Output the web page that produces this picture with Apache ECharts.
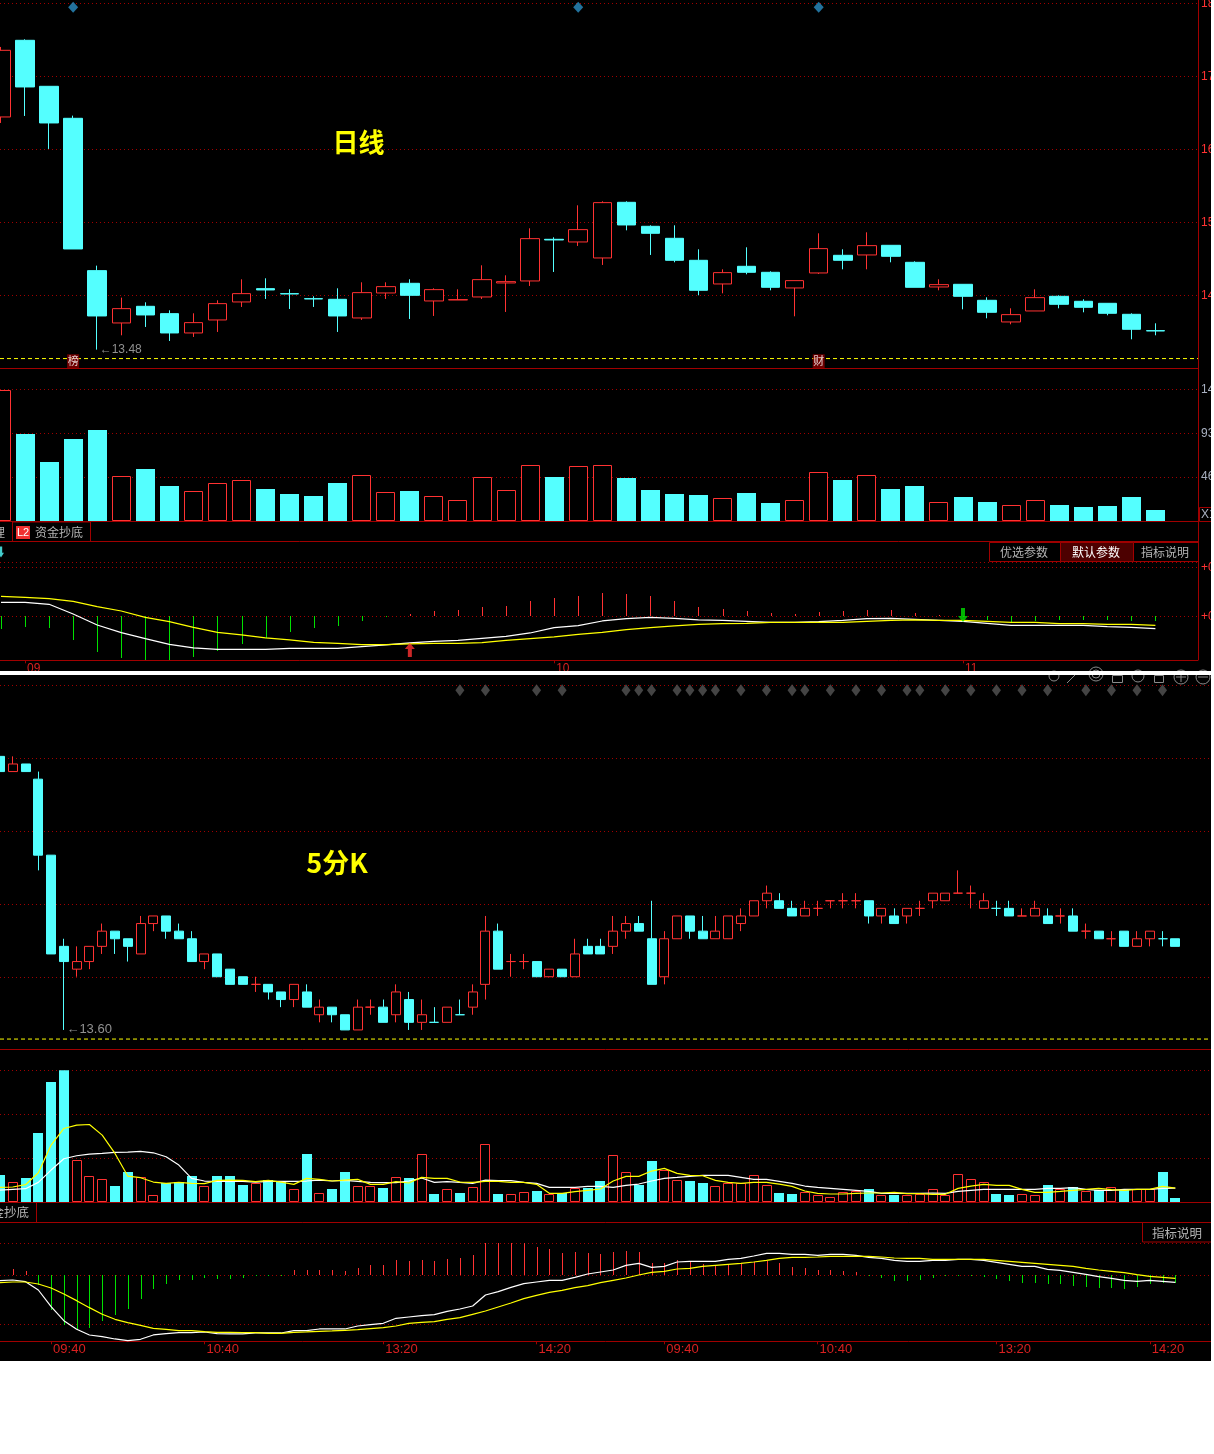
<!DOCTYPE html>
<html><head><meta charset="utf-8">
<style>html,body{margin:0;padding:0;background:#fff}#c{width:1211px;height:1361px;background:#000}</style>
<script src="https://cdn.jsdelivr.net/npm/echarts@6/dist/echarts.min.js"></script>
</head><body><div id="c"></div>
<script>
// ---- daily candles [open, close, low, high]
const dayCandles=[
[16.975,17.975,16.885,18.025],[18.125,17.425,16.99,18.14],[17.435,16.885,16.495,17.435],[16.955,14.995,14.995,16.995],
[14.67,13.99,13.485,14.745],[13.885,14.10,13.70,14.265],[14.135,14.005,13.825,14.195],[14.025,13.735,13.615,14.075],
[13.735,13.89,13.675,14.03],[13.93,14.175,13.75,14.225],[14.20,14.325,14.125,14.54],[14.40,14.38,14.245,14.555],
[14.325,14.32,14.095,14.39],[14.25,14.245,14.125,14.285],[14.24,13.99,13.75,14.405],[13.96,14.34,13.93,14.495],
[14.335,14.43,14.245,14.495],[14.48,14.30,13.945,14.54],[14.215,14.385,13.99,14.405],[14.23,14.235,14.23,14.39],
[14.275,14.535,14.245,14.75],[14.485,14.505,14.05,14.60],[14.515,15.15,14.44,15.305],[15.14,15.13,14.65,15.17],
[15.10,15.285,15.04,15.65],[14.86,15.69,14.755,15.71],[15.695,15.355,15.275,15.71],[15.335,15.23,14.905,15.35],
[15.155,14.825,14.795,15.35],[14.825,14.375,14.30,14.99],[14.47,14.64,14.33,14.69],[14.735,14.645,14.615,15.02],
[14.645,14.42,14.375,14.66],[14.41,14.52,13.985,14.52],[14.635,15.00,14.62,15.23],[14.90,14.825,14.69,14.99],
[14.905,15.045,14.69,15.245],[15.05,14.885,14.795,15.05],[14.795,14.42,14.42,14.81],[14.425,14.46,14.375,14.54],
[14.465,14.285,14.09,14.465],[14.225,14.045,13.955,14.27],[13.90,14.01,13.865,14.105],[14.065,14.265,14.065,14.39],
[14.285,14.165,14.105,14.30],[14.21,14.12,14.045,14.24],[14.18,14.03,14.00,14.18],[14.015,13.79,13.64,14.03],[13.77,13.765,13.70,13.88]];
const dayVolume=[1397,923,626,870,966,474,552,371,315,400,431,340,286,265,403,485,304,318,262,219,463,325,601,467,580,601,
456,329,286,276,241,297,191,219,516,435,485,340,371,198,255,202,166,219,170,149,159,255,117];
const dayHist=[-.074,-.064,-.068,-.14,-.214,-.248,-.26,-.26,-.242,-.208,-.166,-.132,-.094,-.07,-.058,-.028,-.004,.012,.03,.036,.054,.06,.09,.108,.122,.138,
.134,.122,.092,.056,.044,.03,.02,.014,.024,.032,.038,.038,.02,.006,-.002,-.02,-.032,-.028,-.022,-.022,-.022,-.028,-.028];
const dayDif=[.084,.084,.072,.014,-.052,-.098,-.134,-.168,-.19,-.198,-.198,-.198,-.192,-.192,-.192,-.182,-.172,-.16,-.15,-.144,-.132,-.12,-.1,-.068,-.056,-.028,
-.014,-.006,-.012,-.022,-.024,-.03,-.036,-.036,-.032,-.024,-.014,-.012,-.018,-.024,-.03,-.042,-.054,-.054,-.054,-.054,-.062,-.066,-.074];
const dayDea=[.12,.114,.106,.09,.058,.032,-.006,-.032,-.066,-.096,-.112,-.13,-.142,-.156,-.162,-.17,-.17,-.166,-.162,-.162,-.158,-.144,-.134,-.124,-.108,-.096,
-.08,-.068,-.058,-.048,-.044,-.042,-.036,-.036,-.036,-.036,-.03,-.024,-.022,-.024,-.024,-.03,-.036,-.036,-.044,-.044,-.048,-.048,-.054];
const dayPriceTicks=[14.3,15.395,16.49,17.585,18.68];
const dayMonthIdx=[1,23,40], dayMonthLabels=['09','10','11'];
const dayBlueMarks=[3,24,34];

// ---- 5-minute candles [open, close, low, high]
const m5Candles=[
[13.96,13.94,13.94,13.96],[13.94,13.95,13.94,13.96],[13.95,13.94,13.94,13.95],[13.93,13.83,13.81,13.94],
[13.83,13.70,13.70,13.83],[13.71,13.69,13.60,13.72],[13.68,13.69,13.67,13.71],[13.69,13.71,13.68,13.71],
[13.71,13.73,13.70,13.74],[13.73,13.72,13.70,13.73],[13.72,13.71,13.69,13.72],[13.70,13.74,13.70,13.75],
[13.74,13.75,13.73,13.75],[13.75,13.73,13.72,13.75],[13.73,13.72,13.72,13.74],[13.72,13.69,13.69,13.73],
[13.69,13.70,13.68,13.70],[13.70,13.67,13.67,13.70],[13.68,13.66,13.66,13.68],[13.67,13.66,13.66,13.67],
[13.66,13.66,13.65,13.67],[13.66,13.65,13.64,13.66],[13.65,13.64,13.63,13.65],[13.64,13.66,13.63,13.66],
[13.65,13.63,13.63,13.66],[13.62,13.63,13.61,13.64],[13.63,13.62,13.61,13.63],[13.62,13.60,13.60,13.62],
[13.60,13.63,13.60,13.64],[13.63,13.63,13.62,13.64],[13.63,13.61,13.61,13.64],[13.62,13.65,13.61,13.66],
[13.64,13.61,13.60,13.65],[13.61,13.62,13.60,13.64],[13.61,13.61,13.61,13.63],[13.61,13.63,13.61,13.63],
[13.62,13.62,13.62,13.64],[13.63,13.65,13.62,13.66],[13.66,13.73,13.64,13.75],[13.73,13.68,13.68,13.74],
[13.69,13.69,13.67,13.70],[13.69,13.69,13.68,13.70],[13.69,13.67,13.67,13.69],[13.67,13.68,13.67,13.68],
[13.68,13.67,13.67,13.68],[13.67,13.70,13.67,13.72],[13.71,13.70,13.70,13.72],[13.71,13.70,13.70,13.72],
[13.71,13.73,13.70,13.75],[13.73,13.74,13.72,13.75],[13.74,13.73,13.73,13.75],[13.72,13.66,13.66,13.77],
[13.67,13.72,13.66,13.73],[13.72,13.75,13.72,13.75],[13.75,13.73,13.72,13.75],[13.73,13.72,13.72,13.75],
[13.72,13.73,13.72,13.75],[13.72,13.75,13.72,13.75],[13.74,13.75,13.73,13.76],[13.75,13.77,13.75,13.77],
[13.77,13.78,13.76,13.79],[13.77,13.76,13.76,13.78],[13.76,13.75,13.75,13.77],
[13.75,13.76,13.75,13.77],[13.76,13.76,13.75,13.77],[13.77,13.77,13.76,13.77],[13.77,13.77,13.76,13.78],[13.77,13.77,13.76,13.78],
[13.77,13.75,13.74,13.77],[13.75,13.76,13.74,13.76],[13.75,13.74,13.74,13.76],[13.75,13.76,13.74,13.76],
[13.76,13.76,13.75,13.77],[13.77,13.78,13.76,13.78],[13.77,13.78,13.77,13.78],[13.78,13.78,13.78,13.81],
[13.78,13.78,13.76,13.79],[13.76,13.77,13.76,13.78],[13.76,13.76,13.75,13.77],[13.76,13.75,13.75,13.77],
[13.75,13.75,13.75,13.76],[13.75,13.76,13.75,13.77],[13.75,13.74,13.74,13.76],[13.75,13.75,13.74,13.76],
[13.75,13.73,13.73,13.76],[13.73,13.73,13.72,13.74],[13.73,13.72,13.72,13.73],[13.72,13.72,13.71,13.73],
[13.73,13.71,13.71,13.73],[13.71,13.72,13.71,13.73],[13.72,13.73,13.71,13.73],[13.72,13.72,13.71,13.73],[13.72,13.71,13.71,13.72]];
const m5Volume=[608,443,540,1553,2700,2970,938,578,510,360,675,555,150,420,443,585,353,585,585,383,420,495,465,285,1080,195,293,675,353,353,315,555,
540,1073,180,285,203,330,1298,180,173,218,248,173,195,315,315,473,1050,668,383,923,720,488,473,428,353,420,420,600,375,203,180,
218,150,105,218,240,285,150,158,150,173,285,150,623,510,443,180,158,173,150,383,285,338,240,270,330,270,285,285,675,90];
const m5VolMa5=[330,338,390,660,1283,1658,1733,1748,1508,1095,585,548,450,420,443,420,413,488,495,488,458,488,450,398,533,510,473,495,510,398,398,458,
428,555,533,533,450,443,465,465,443,443,398,195,195,233,263,293,473,578,578,698,758,645,600,593,488,443,420,443,443,405,353,
248,195,180,180,195,203,203,218,188,188,173,173,308,360,398,375,375,285,218,218,240,263,285,308,278,263,285,285,353,315];
const m5VolMa10=[270,285,300,443,720,975,1043,1080,1095,1118,1125,1140,1110,1020,833,533,473,465,465,465,450,465,465,465,473,495,473,488,465,443,435,435,
473,540,443,458,443,420,495,480,480,443,420,330,330,330,353,353,330,375,405,473,533,555,578,600,600,600,555,510,510,465,420,
360,330,308,285,263,240,195,195,195,195,203,195,240,263,285,285,285,285,285,308,308,323,285,263,263,285,285,285,308,315];
const m5Hist=[0,.019,.013,-.029,-.104,-.149,-.162,-.157,-.137,-.119,-.101,-.071,-.041,-.026,-.014,-.014,-.007,-.011,-.011,-.008,-.002,-.002,-.002,.016,.016,.016,.016,.013,.022,.031,.031,.046,
.043,.046,.043,.049,.052,.061,.097,.097,.097,.097,.085,.079,.067,.07,.067,.064,.07,.073,.07,.037,.037,.046,.04,.034,.031,.031,.034,.04,.043,.037,.025,
.022,.016,.016,.013,.01,-.001,-.008,-.017,-.017,-.014,-.008,-.002,-.003,-.003,-.004,-.011,-.017,-.023,-.023,-.026,-.026,-.032,-.035,-.038,-.038,-.041,-.035,-.026,-.023,-.023];
const m5Dif=[-.016,-.014,-.019,-.044,-.094,-.136,-.162,-.179,-.184,-.191,-.196,-.192,-.179,-.175,-.172,-.172,-.17,-.175,-.176,-.176,-.173,-.173,-.173,-.166,-.166,-.161,-.161,-.161,-.152,-.148,-.144,-.129,
-.125,-.121,-.118,-.108,-.101,-.092,-.059,-.049,-.036,-.025,-.02,-.015,-.015,-.006,.004,.01,.016,.03,.036,.024,.027,.04,.042,.042,.042,.048,.051,.058,.066,.066,.063,
.063,.06,.063,.063,.06,.054,.051,.045,.042,.042,.045,.045,.048,.048,.045,.039,.033,.027,.027,.018,.015,.009,.003,-.004,-.009,-.015,-.018,-.015,-.018,-.021];
const m5Dea=[-.022,-.02,-.02,-.026,-.038,-.056,-.076,-.097,-.117,-.132,-.142,-.15,-.159,-.162,-.166,-.166,-.169,-.171,-.171,-.172,-.172,-.174,-.174,-.171,-.17,-.168,-.167,-.165,-.163,-.16,-.157,-.152,
-.144,-.141,-.139,-.132,-.127,-.117,-.107,-.095,-.083,-.07,-.06,-.051,-.045,-.037,-.031,-.022,-.015,-.008,.001,.009,.012,.019,.021,.027,.03,.033,.036,.04,.045,.051,.054,
.054,.055,.057,.057,.057,.057,.055,.052,.051,.051,.048,.048,.048,.048,.048,.045,.042,.039,.036,.033,.03,.027,.021,.016,.012,.008,.002,-.003,-.006,-.009];
const m5PriceTicks=[13.669,13.765,13.861,13.958,14.054];
const m5TimeIdx=[4,16,30,42,52,64,78,90];
const m5TimeLabels=['09:40','10:40','13:20','14:20','09:40','10:40','13:20','14:20'];
const m5GrayMarks=[36,38,42,44,49,50,51,53,54,55,56,58,60,62,63,65,67,69,71,72,74,76,78,80,82,85,87,89,91];

// ---- styling
const RED='#ff3232',CYAN='#54ffff',GREEN='#00e000',AX='#a00000',GRID='#a00000',GRAYT='#b4b4b4';
const CJK='"Noto Sans CJK SC",sans-serif', LAT='"Liberation Sans",Arial,sans-serif';
const DAY_BAND=24.05, M5_BAND=12.775;
const gridLine={show:true,lineStyle:{color:GRID,type:[1,3],width:1}};
const isUp=(rows,i)=>{const r=rows[i];if(r[1]!==r[0])return r[1]>r[0];return i>0?rows[i-1][1]<=r[1]:true;};

const grids=[
 {left:0,width:1198,top:3.3,height:365},
 {left:0,width:1198,top:389.3,height:131.7},
 {left:0,width:1198,top:541.3,height:119},
 {left:0,width:1211,top:674,height:375.7},
 {left:0,width:1211,top:1070.3,height:131.7},
 {left:0,width:1211,top:1222.7,height:118.6}
].map(g=>Object.assign(g,{outerBoundsMode:'none',containLabel:false}));
const dayXRange={min:-1/DAY_BAND,max:1197/DAY_BAND}, m5XRange={min:0,max:1211/M5_BAND};
function xA(gi,range,ticks,labels){
 const o={type:'value',gridIndex:gi,min:range.min,max:range.max,position:'bottom',
  splitLine:{show:false},
  axisLine:{show:true,onZero:false,lineStyle:{color:AX,width:1}},
  axisTick:{show:false},axisLabel:{show:false}};
 if(ticks){
  o.axisTick={show:true,inside:false,length:3,lineStyle:{color:AX},customValues:ticks};
  o.axisLabel={show:true,customValues:ticks,align:'left',margin:2,color:'#d82020',fontFamily:LAT,fontSize:ticks.length>3?13:12,
    padding:[0,0,0,2],formatter:v=>labels[ticks.indexOf(Math.round(v))]};
 }
 return o;
}
function yA(gi,o){
 return Object.assign({type:'value',gridIndex:gi,position:'right',scale:true,
  axisLine:{show:false},splitLine:gridLine,axisLabel:{show:false}},o);
}
const yLab=(color,fmt)=>({show:true,color,fontFamily:LAT,fontSize:12,margin:3,formatter:fmt});

const xAxes=[xA(0,dayXRange),xA(1,dayXRange),xA(2,dayXRange,dayMonthIdx,dayMonthLabels),
             xA(3,m5XRange),xA(4,m5XRange),xA(5,m5XRange,m5TimeIdx,m5TimeLabels)];
const yAxes=[
 yA(0,{min:13.205,max:18.68,axisTick:{show:false,customValues:dayPriceTicks},
   axisLabel:Object.assign(yLab(RED,v=>v.toFixed(2)),{customValues:dayPriceTicks})}),
 yA(1,{min:0,max:1401,interval:467,axisTick:{show:false},axisLabel:yLab('#a8b0c0',v=>v?String(v)+'00':'')}),
 yA(2,{min:-.264,max:.45,axisTick:{show:false,customValues:[.324,.294,0]},
   axisLabel:Object.assign(yLab(RED,v=>'+'+v.toFixed(2)),{customValues:[.294,0]})}),
 yA(3,{min:13.574,max:14.0684,axisTick:{show:false,customValues:m5PriceTicks}}),
 yA(4,{min:0,max:2970,interval:990,axisTick:{show:false}}),
 yA(5,{min:-.198,max:.158,axisTick:{show:false,customValues:[.096,0,-.148]}})
];
function candle(gi,rows,w){
 return {type:'candlestick',xAxisIndex:gi,yAxisIndex:gi,barWidth:w,silent:true,z:3,
  encode:{x:0,y:[1,2,3,4]},
  itemStyle:{color:'#000',color0:CYAN,borderColor:RED,borderColor0:CYAN,borderWidth:1},
  data:rows.map((r,i)=>[i,r[0],r[1],r[2],r[3]])};
}
function dash(gi,range,price){
 return {type:'line',xAxisIndex:gi,yAxisIndex:gi,showSymbol:false,silent:true,z:2,
  lineStyle:{color:'#ffff00',type:[4,3],width:1},data:[[range.min,price],[range.max,price]]};
}
// crisp volume bars: positions come from the axes through api.coord
function vol(gi,vals,rows,w){
 return {type:'custom',xAxisIndex:gi,yAxisIndex:gi,silent:true,z:3,encode:{x:0,y:1},clip:true,
  renderItem(params,api){
   const i=api.value(0),p=api.coord([i,api.value(1)]),b=api.coord([i,0]);
   const x=Math.round(p[0]-w/2),y=Math.round(p[1]),h=Math.round(b[1])-y;
   return isUp(rows,i)
    ?{type:'rect',shape:{x:x+.5,y:y+.5,width:Math.round(w)-1,height:h-1},style:{fill:'#000',stroke:RED,lineWidth:1}}
    :{type:'rect',shape:{x,y,width:Math.round(w),height:h},style:{fill:CYAN}};
  },
  data:vals.map((v,i)=>[i,v])};
}
function hist(gi,vals){
 return {type:'custom',xAxisIndex:gi,yAxisIndex:gi,silent:true,z:3,encode:{x:0,y:1},clip:true,
  renderItem(params,api){
   const i=api.value(0),v=api.value(1),p=api.coord([i,v]),b=api.coord([i,0]);
   const x=Math.round(p[0])+.5;
   return {type:'line',shape:{x1:x,y1:Math.round(b[1]),x2:x,y2:Math.round(p[1])},style:{stroke:v>=0?RED:GREEN,lineWidth:1}};
  },
  data:vals.map((v,i)=>[i,v])};
}
function ln(gi,vals,color,z){
 return {type:'line',xAxisIndex:gi,yAxisIndex:gi,showSymbol:false,silent:true,z:z||4,
  lineStyle:{color,width:1.2},data:vals.map((v,i)=>[i,v])};
}
function marks(gi,idx,y,symbol,size,color){
 return {type:'scatter',xAxisIndex:gi,yAxisIndex:gi,silent:true,z:5,symbol,symbolSize:size,
  itemStyle:{color},data:idx.map(i=>[i,y])};
}
function tagMark(gi,i,y,text){
 return {type:'scatter',xAxisIndex:gi,yAxisIndex:gi,silent:true,z:6,symbol:'rect',symbolSize:[12,14],
  itemStyle:{color:'#8a0000'},label:{show:true,position:'inside',formatter:text,color:'#fff',fontFamily:CJK,fontSize:11},
  data:[[i,y]]};
}
function lowNote(gi,i,y,text,fs){
 return {type:'scatter',xAxisIndex:gi,yAxisIndex:gi,silent:true,z:6,symbol:'circle',symbolSize:1,
  itemStyle:{color:'transparent'},label:{show:true,position:'right',distance:2,formatter:text,color:GRAYT,fontFamily:LAT,fontSize:fs},
  data:[[i,y]]};
}
const ARROW='path://M5 0 L10 6 L7 6 L7 14 L3 14 L3 6 L0 6 Z';
function arrow(gi,i,y,size,color,rot){
 return {type:'scatter',xAxisIndex:gi,yAxisIndex:gi,silent:true,z:6,symbol:ARROW,symbolSize:size,symbolRotate:rot,
  itemStyle:{color},data:[[i,y]]};
}
const series=[
 dash(0,dayXRange,13.351),
 candle(0,dayCandles,19),
 marks(0,dayBlueMarks,18.62,'diamond',[10,11],'#2a8fc4'),
 tagMark(0,3,13.31,'榜'),tagMark(0,34,13.31,'财'),
 lowNote(0,4,13.485,'←13.48',12),
 vol(1,dayVolume,dayCandles,19),
 hist(2,dayHist),ln(2,dayDif,'#ffffff'),ln(2,dayDea,'#ffff00'),
 arrow(2,17,-.202,[10,14],RED,0),arrow(2,40,.008,[10,14],GREEN,180),arrow(2,0,.386,[6,11],CYAN,180),
 dash(3,m5XRange,13.588),
 candle(3,m5Candles,9.5),
 marks(3,m5GrayMarks,14.047,'diamond',[9,12],'#555555'),
 lowNote(3,5,13.601,'←13.60',13),
 vol(4,m5Volume,m5Candles,10),ln(4,m5VolMa10,'#ffffff'),ln(4,m5VolMa5,'#ffff00'),
 hist(5,m5Hist),ln(5,m5Dif,'#ffffff'),ln(5,m5Dea,'#ffff00')
];

// ---- frame, tabs, buttons, captions
const L=(x1,y1,x2,y2,c)=>({type:'line',z:50,silent:true,shape:{x1,y1,x2,y2},style:{stroke:c||AX,lineWidth:1}});
const T=(x,y,text,o)=>({type:'text',z:60,silent:true,x,y,style:Object.assign({text,fill:GRAYT,font:'12px '+CJK,textAlign:'center',textVerticalAlign:'middle'},o||{})});
const R=(x,y,width,height,fill,stroke)=>({type:'rect',z:49,silent:true,shape:{x,y,width,height},style:{fill:fill||'transparent',stroke:stroke||AX,lineWidth:1}});
const C=(cx,cy,r)=>({type:'circle',z:48,silent:true,shape:{cx,cy,r},style:{fill:'transparent',stroke:'#8a8a8a',lineWidth:1}});
const graphic=[
 L(1198.5,0,1198.5,660), L(0,541.5,1198,541.5), L(0,368.5,1198,368.5),
 R(12.5,522,78,19.5,'#000'), T(5,532,'理',{textAlign:'right'}),
 {type:'rect',z:50,silent:true,shape:{x:16,y:526,width:14,height:13},style:{fill:'#f03030'}},
 T(23,532.5,'L2',{fill:'#fff',font:'11px '+LAT}), T(59,532,'资金抄底'),
 R(989.5,542.5,71,19,'#000'), T(1024,552,'优选参数'),
 R(1060.5,542.5,73,19,'#4c0000'), T(1096,552,'默认参数',{fill:'#ffffff'}),
 R(1133.5,542.5,65,19,'#000'), T(1165,552,'指标说明'),
 R(1199.5,507.5,12,14,'#000'), T(1201,514.5,'X10000',{textAlign:'left',fill:'#a8b0c0',font:'12px '+LAT}),
 L(0,1222.5,1211,1222.5),
 L(36.5,1202,36.5,1222), T(29,1212.5,'资金抄底',{textAlign:'right',font:'12.5px '+CJK}),
 R(1142.5,1222.5,72,19.5,'#000'), T(1177,1233,'指标说明',{font:'12.5px '+CJK}),
 T(358.5,142,'日线',{fill:'#ffff00',font:'bold 26px '+CJK}),
 T(337,863,'5分K',{fill:'#ffff00',font:'bold 27px '+CJK}),
 C(1054,676,5),C(1096,674,7),C(1096,674,4),C(1138,676,6),C(1181,677,7),C(1203,677,7),
 L(1067,683,1076,674,'#8a8a8a'),L(1176,677,1186,677,'#8a8a8a'),L(1181,672,1181,682,'#8a8a8a'),L(1198,677,1208,677,'#8a8a8a'),
 R(1112.5,675.5,10,7,'transparent','#8a8a8a'),R(1154.5,675.5,9,7,'transparent','#8a8a8a'),
 {type:'rect',z:100,silent:true,shape:{x:0,y:671,width:1211,height:4},style:{fill:'#ffffff'}}
];

const chart=echarts.init(document.getElementById('c'),null,{renderer:'canvas',width:1211,height:1361});
chart.setOption({animation:false,backgroundColor:'#000',grid:grids,xAxis:xAxes,yAxis:yAxes,series,graphic:{elements:graphic}});
</script></body></html>
